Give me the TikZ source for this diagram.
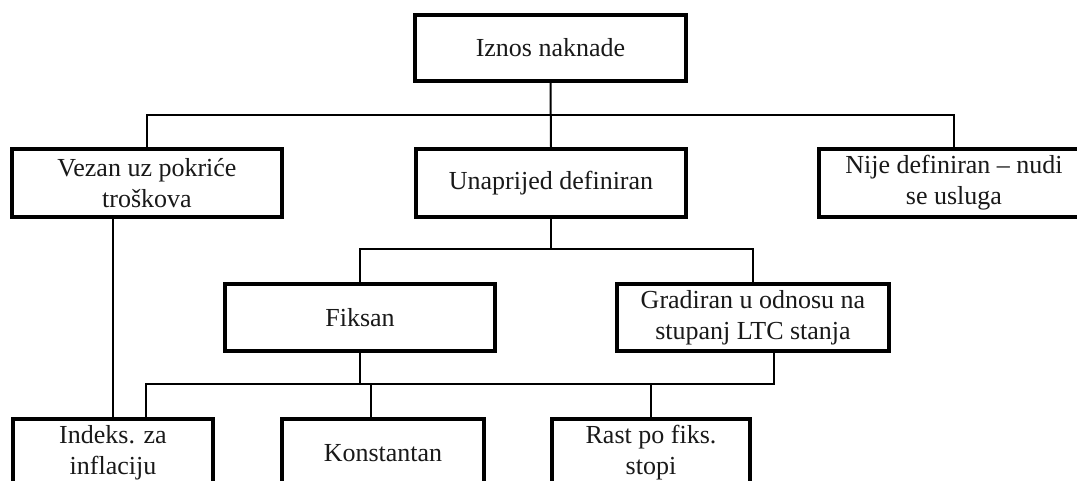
\documentclass[tikz,border=0pt]{standalone}
\usepackage{fontspec}
\setmainfont{Liberation Serif}
\begin{document}
\begin{tikzpicture}[x=1pt,y=-1pt,
  box/.style={draw=black, line width=3.5pt, fill=white, rectangle, align=center,
    inner sep=0pt, font=\fontsize{26}{31}\selectfont, text=black!90},
  conn/.style={draw=black, line width=2pt}]
\useasboundingbox (0,0) rectangle (1077,481);
\clip (0,0) rectangle (1077,481);
\fill[white] (0,0) rectangle (1077,481);
% level coordinates
\coordinate (b1) at (0,115);
\coordinate (b2) at (0,249);
\coordinate (b3) at (0,384);
% nodes
\node[box, minimum width=271pt, minimum height=66pt] (iznos) at (550.5,48) {Iznos naknade};
\node[box, minimum width=270pt, minimum height=68pt] (vezan) at (147,183) {Vezan uz pokriće\\troškova};
\node[box, minimum width=270pt, minimum height=68pt] (unap) at (551,183) {Unaprijed definiran};
\node[box, minimum width=270pt, minimum height=68pt] (nije) at (954,183) {Nije definiran – nudi\\se usluga};
\node[box, minimum width=270pt, minimum height=67pt] (fiksan) at (360,317.5) {Fiksan};
\node[box, minimum width=272pt, minimum height=67pt] (grad) at (753,317.5) {Gradiran u odnosu na\\stupanj LTC stanja};
\node[box, minimum width=200pt, minimum height=68pt] (indeks) at (113,453) {Indeks. za\\inflaciju};
\node[box, minimum width=202pt, minimum height=68pt] (konst) at (383,453) {Konstantan};
\node[box, minimum width=198pt, minimum height=68pt] (rast) at (651,453) {Rast po fiks.\\stopi};
% connectors
\begin{scope}[on background layer/.style={}]
\draw[conn] (iznos.south) -- (unap.north);
\draw[conn] (vezan.north) -- (vezan.north |- b1) -- (nije.north |- b1) -- (nije.north);
\draw[conn] (unap.south) -- (unap.south |- b2);
\draw[conn] (fiksan.north) -- (fiksan.north |- b2) -- (grad.north |- b2) -- (grad.north);
\draw[conn] (fiksan.south) -- (fiksan.south |- b3);
\draw[conn] ([xshift=21pt]grad.south) -- ([xshift=21pt]grad.south |- b3) -- ([xshift=33pt]indeks.north |- b3) -- ([xshift=33pt]indeks.north);
\draw[conn] ([xshift=-12pt]konst.north |- b3) -- ([xshift=-12pt]konst.north);
\draw[conn] (rast.north |- b3) -- (rast.north);
\draw[conn] ([xshift=-34pt]vezan.south) -- ([xshift=-34pt]vezan.south |- indeks.north);
\end{scope}
\end{tikzpicture}
\end{document}
